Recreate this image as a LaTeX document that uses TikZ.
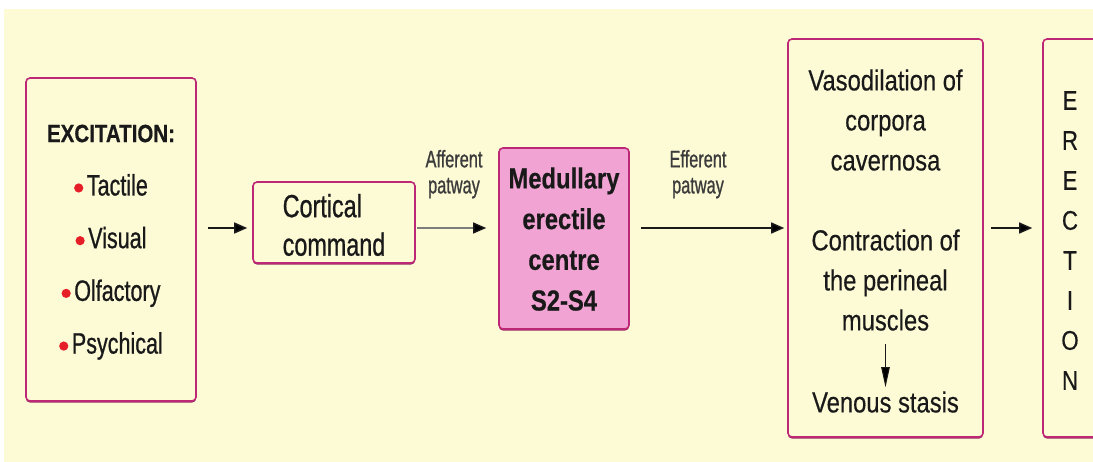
\documentclass[tikz,border=0pt]{standalone}
\usepackage{fontspec}
\setmainfont{Liberation Sans}
% condensed, slightly heavier cuts of the same sans face
\newfontfamily\condA[FakeStretch=0.73,FakeBold=0.7]{Liberation Sans}
\newfontfamily\condB[FakeStretch=0.82,FakeBold=0.4]{Liberation Sans}
\newfontfamily\condC[FakeStretch=0.68,FakeBold=0.8]{Liberation Sans}
\usetikzlibrary{arrows.meta,shadows}

\definecolor{paper}{RGB}{253,250,214}
\definecolor{frame}{RGB}{190,38,118}
\definecolor{frameshade}{RGB}{140,20,80}
\definecolor{centrefill}{RGB}{241,164,212}
\definecolor{dotred}{RGB}{230,30,40}
\definecolor{ink}{RGB}{25,25,25}
\definecolor{pathgray}{RGB}{125,125,125}

% red list bullet
\newcommand\reddot{\tikz[baseline=0pt]\fill[dotred] (0pt,7.5pt) circle[radius=4.6pt];\kern3.5pt}

\tikzset{
  box/.style={draw=frame, line width=1.6pt, rounded corners=4pt, fill=paper,
    drop shadow={shadow xshift=0pt, shadow yshift=-1.6pt, fill=frameshade, opacity=0.9},
    inner sep=0pt},
  txt/.style={inner sep=0pt, text=ink, align=center, anchor=north},
  link/.style={-{Triangle[length=13pt,width=11pt]}, line width=1.5pt, draw=ink},
  sidelabel/.style={txt, text=ink!85, font={\condC\fontsize{24}{26}\selectfont}},
}

\begin{document}
\begin{tikzpicture}[x=1pt, y=-1pt]
\useasboundingbox (0,0) rectangle (1093,462);
\begin{scope}
\clip (0,0) rectangle (1093,462);
% page and cream panel
\fill[white] (0,0) rectangle (1093,462);
\fill[paper] (4,9) rectangle (1093,462);

% boxes
\node[box, minimum width=170pt, minimum height=323pt] (exc) at (111,239.5) {};
\node[box, minimum width=162pt, minimum height=81pt] (cort) at (334,222.5) {};
\node[box, fill=centrefill, minimum width=130pt, minimum height=181pt] (med) at (564,238.5) {};
\node[box, minimum width=195pt, minimum height=398pt] (vaso) at (885.5,238) {};
\node[box, minimum width=70pt, minimum height=398pt] (erec) at (1078,238) {};

% texts
\node[txt, font={\condB\bfseries\fontsize{25}{30}\selectfont}] (exhead) at (111,124.5) {EXCITATION:};
\node[txt, font={\condA\fontsize{29.5}{52.7}\selectfont}] (exlist) at (111,173.9)
  {\reddot Tactile\\ \reddot Visual\\ \reddot Olfactory\\ \reddot Psychical};
\node[txt, align=left, font={\condA\fontsize{32}{38.5}\selectfont}] (corttext) at (334,193.8)
  {Cortical\\command};
\node[txt, font={\condB\bfseries\fontsize{29}{40.7}\selectfont}] (medtext) at (564,167.2)
  {Medullary\\erectile\\centre\\S2-S4};
\node[sidelabel] (aff) at (454,149.8) {Afferent\\patway};
\node[sidelabel] (eff) at (698,149.8) {Efferent\\patway};
\node[txt, font={\condB\fontsize{29}{40}\selectfont}] (vtop) at (885.5,69.2)
  {Vasodilation of\\corpora\\cavernosa};
\node[txt, font={\condB\fontsize{29}{40}\selectfont}] (vmid) at (885.5,229.2)
  {Contraction of\\the perineal\\muscles};
\node[txt, font={\condB\fontsize{29}{40}\selectfont}] (venous) at (885.5,391.2) {Venous stasis};
\node[txt, font={\condB\fontsize{27}{40}\selectfont}] (erectext) at (1070,91)
  {E\\R\\E\\C\\T\\I\\O\\N};

% connectors along the main axis
\coordinate (axis) at (0,228);
\draw[link, shorten <=11pt, shorten >=5pt] (exc.east |- axis) -- (cort.west |- axis);
\draw[link, draw=pathgray, line width=1.3pt, -{Triangle[length=13pt,width=11pt,color=ink]},
      shorten <=1pt, shorten >=12pt] (cort.east |- axis) -- (med.west |- axis);
\draw[link, shorten <=11pt, shorten >=3pt] (med.east |- axis) -- (vaso.west |- axis);
\draw[link, shorten <=7pt, shorten >=10pt] (vaso.east |- axis) -- (erec.west |- axis);
% muscles -> venous stasis
\draw[draw=ink, line width=1pt, -{Triangle[length=20pt,width=8.5pt]},
      shorten <=13pt, shorten >=4pt] (vmid.south) -- (venous.north);
\end{scope}
\end{tikzpicture}
\end{document}
